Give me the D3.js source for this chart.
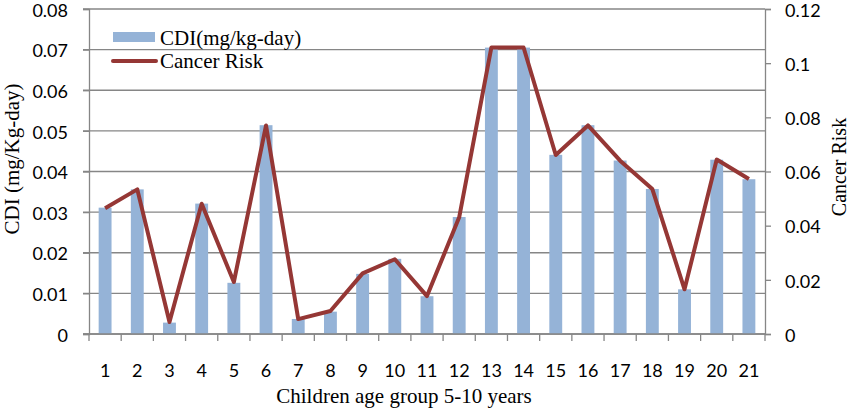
<!DOCTYPE html>
<html>
<head>
<meta charset="utf-8">
<script src="https://cdn.jsdelivr.net/npm/d3@7"></script>
<style>
  body { margin: 0; background: #fff; }
  svg { display: block; }
</style>
</head>
<body>
<div id="chart"></div>
<script>
// data
const groups = d3.range(1, 22).map(String);
const cdi = [0.0311, 0.0356, 0.0028, 0.0321, 0.0126, 0.0514, 0.0037, 0.0055, 0.0148, 0.0185,
             0.0093, 0.0288, 0.0705, 0.0705, 0.0441, 0.0514, 0.0427, 0.0357, 0.0110, 0.0429, 0.0381];
const risk = [0.0464, 0.0534, 0.0044, 0.0481, 0.0192, 0.0770, 0.0055, 0.0085, 0.0224, 0.0276,
              0.0140, 0.0431, 0.1058, 0.1058, 0.0661, 0.0770, 0.0640, 0.0535, 0.0165, 0.0644, 0.0572];
const leftTicks = [0, 0.01, 0.02, 0.03, 0.04, 0.05, 0.06, 0.07, 0.08];
const rightTicks = [0, 0.02, 0.04, 0.06, 0.08, 0.1, 0.12];

const width = 851;
const height = 409;
const area = { left: 89, right: 765, top: 9, bottom: 334 };

const svg = d3.select("#chart")
  .append("svg")
  .attr("width", width)
  .attr("height", height);

const x = d3.scaleBand().domain(groups).range([area.left, area.right]);
const yL = d3.scaleLinear().domain([0, 0.08]).range([area.bottom, area.top]);
const yR = d3.scaleLinear().domain([0, 0.12]).range([area.bottom, area.top]);

const gray = "#868686";
const tickFont = "Lato, 'Open Sans', sans-serif";
const serif = "'Liberation Serif', 'Times New Roman', serif";

// gridlines
svg.append("g")
  .selectAll("line")
  .data(leftTicks)
  .join("line")
  .attr("x1", area.left - 6)
  .attr("x2", area.right)
  .attr("y1", d => yL(d))
  .attr("y2", d => yL(d))
  .attr("stroke", gray)
  .attr("stroke-width", 1.3);

// bars
svg.append("g")
  .selectAll("rect")
  .data(cdi)
  .join("rect")
  .attr("x", (d, i) => x(groups[i]) + x.bandwidth() * 0.3)
  .attr("width", x.bandwidth() * 0.4)
  .attr("y", d => yL(d))
  .attr("height", d => yL(0) - yL(d))
  .attr("fill", "#95b3d7");

// left axis
const leftAxis = svg.append("g")
  .attr("transform", `translate(${area.left},0)`)
  .call(d3.axisLeft(yL).tickValues(leftTicks).tickSize(6).tickPadding(15)
    .tickFormat(d => d === 0 ? "0" : d3.format(".2f")(d)));

// right axis
const rightAxis = svg.append("g")
  .attr("transform", `translate(${area.right},0)`)
  .call(d3.axisRight(yR).tickValues(rightTicks).tickSize(6).tickPadding(14)
    .tickFormat(d => d === 0 ? "0" : d3.format("~g")(d)));

// x axis with ticks on category boundaries
const xAxis = svg.append("g")
  .attr("transform", `translate(0,${area.bottom})`)
  .call(d3.axisBottom(x).tickSize(0).tickPadding(30));
xAxis.selectAll(".bound")
  .data(groups.concat(["end"]))
  .join("line")
  .attr("class", "bound")
  .attr("x1", (d, i) => i < groups.length ? x(d) : area.right)
  .attr("x2", (d, i) => i < groups.length ? x(d) : area.right)
  .attr("y1", 0)
  .attr("y2", 7)
  .attr("stroke", gray)
  .attr("stroke-width", 1.3);

[leftAxis, rightAxis, xAxis].forEach(g => {
  g.select(".domain").attr("stroke", gray).attr("stroke-width", 1.3);
  g.selectAll(".tick line").attr("stroke", gray).attr("stroke-width", 1.3);
  g.selectAll(".tick text")
    .attr("fill", "#000")
    .style("font-family", tickFont)
    .style("font-size", "18px");
});
leftAxis.selectAll(".tick text").attr("dy", "0.4em");
rightAxis.selectAll(".tick text").attr("dy", "0.4em");
xAxis.select(".domain").attr("d", `M${area.left - 6},0H${area.right}`);

// cancer risk line
svg.append("path")
  .datum(risk)
  .attr("fill", "none")
  .attr("stroke", "#953735")
  .attr("stroke-width", 4)
  .attr("stroke-linejoin", "round")
  .attr("d", d3.line()
    .x((d, i) => x(groups[i]) + x.bandwidth() / 2)
    .y(d => yR(d)));

// axis titles
svg.append("text")
  .attr("transform", "translate(19,159) rotate(-90)")
  .attr("text-anchor", "middle")
  .style("font-family", serif)
  .style("font-size", "21px")
  .text("CDI (mg/Kg-day)");

svg.append("text")
  .attr("transform", "translate(846,167) rotate(-90)")
  .attr("text-anchor", "middle")
  .style("font-family", serif)
  .style("font-size", "20px")
  .text("Cancer Risk");

svg.append("text")
  .attr("x", 404)
  .attr("y", 403)
  .attr("text-anchor", "middle")
  .style("font-family", serif)
  .style("font-size", "21px")
  .text("Children age group 5-10 years");

// legend
const legend = svg.append("g");
legend.append("rect")
  .attr("x", 113).attr("y", 32).attr("width", 42).attr("height", 10)
  .attr("fill", "#95b3d7");
legend.append("line")
  .attr("x1", 113).attr("x2", 156).attr("y1", 61).attr("y2", 61)
  .attr("stroke", "#953735").attr("stroke-width", 4).attr("stroke-linecap", "round");
legend.selectAll("text")
  .data(["CDI(mg/kg-day)", "Cancer Risk"])
  .join("text")
  .attr("x", 160)
  .attr("y", (d, i) => 45 + i * 23)
  .style("font-family", serif)
  .style("font-size", "21px")
  .text(d => d);
</script>
</body>
</html>
